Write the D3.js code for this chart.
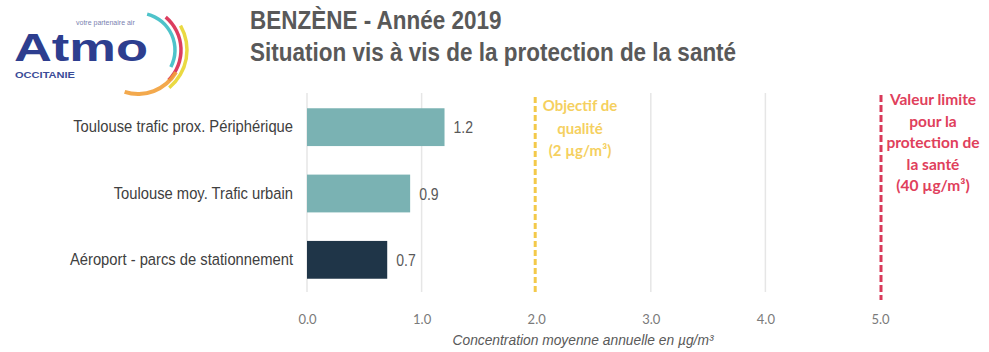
<!DOCTYPE html>
<html>
<head>
<meta charset="utf-8">
<script src="https://cdn.jsdelivr.net/npm/d3@7"></script>
<style>
  html, body { margin: 0; padding: 0; background: #fff; }
  svg { display: block; }
</style>
</head>
<body>
<svg id="chart" width="989" height="352"></svg>
<script>
// Benzène 2019 – annual mean concentration per station
const categories = [
  "Toulouse trafic prox. Périphérique",
  "Toulouse moy. Trafic urbain",
  "Aéroport - parcs de stationnement"
];
const values = [1.2, 0.9, 0.7];
const barGroups = ["trafic", "trafic", "aeroport"];
const tickValues = [0, 1, 2, 3, 4, 5];
const tickLabels = ["0.0", "1.0", "2.0", "3.0", "4.0", "5.0"];
const objectiveValue = 2;
const objectiveLines = ["Objectif de", "qualité", "(2 µg/m³)"];
const limitValue = 5;
const limitLines = ["Valeur limite", "pour la", "protection de", "la santé", "(40 µg/m³)"];

const svg = d3.select("#chart");
const sans = "'Liberation Sans', Arial, sans-serif";
const calibriLike = "Lato, 'Open Sans', sans-serif";

const x = d3.scaleLinear().domain([0, 5]).range([307, 880]);
const y = d3.scaleBand().domain(categories).range([94, 293]).paddingInner(0.43).paddingOuter(0.215);
const color = d3.scaleOrdinal().domain(["trafic", "aeroport"]).range(["#7ab2b3", "#1f3548"]);

// Gridlines
const gridTop = 93, gridBottom = 292;
svg.append("g").selectAll("line")
  .data(tickValues.filter(t => t !== objectiveValue && t !== limitValue))
  .join("line")
  .attr("x1", d => x(d)).attr("x2", d => x(d))
  .attr("y1", gridTop).attr("y2", gridBottom)
  .attr("stroke", "#e6e6e6").attr("stroke-width", 1.5);

// Bars
svg.append("g").selectAll("rect")
  .data(categories)
  .join("rect")
  .attr("x", x(0))
  .attr("y", d => y(d))
  .attr("width", (d, i) => x(values[i]) - x(0))
  .attr("height", y.bandwidth())
  .attr("fill", (d, i) => color(barGroups[i]));

// Value labels (slightly condensed)
svg.append("g").selectAll("text")
  .data(categories)
  .join("text")
  .attr("transform", (d, i) => `translate(${x(values[i]) + 9},${y(d) + y.bandwidth() / 2 + 6}) scale(0.85,1)`)
  .attr("font-family", sans).attr("font-size", 16.5)
  .attr("fill", "#595959")
  .text((d, i) => values[i].toFixed(1));

// Category labels (condensed, right aligned)
svg.append("g").selectAll("text")
  .data(categories)
  .join("text")
  .attr("transform", d => `translate(293,${y(d) + y.bandwidth() / 2 + 5}) scale(0.895,1)`)
  .attr("text-anchor", "end")
  .attr("font-family", sans).attr("font-size", 16.5)
  .attr("fill", "#404040")
  .text(d => d);

// X axis tick labels
const xAxis = d3.axisBottom(x).tickValues(tickValues)
  .tickFormat((d, i) => tickLabels[i]).tickSize(0).tickPadding(0);
const gx = svg.append("g").attr("transform", "translate(0,315)").call(xAxis);
gx.select(".domain").remove();
gx.selectAll("text")
  .attr("font-family", calibriLike).attr("font-size", 13)
  .attr("fill", "#7a7a7a");

// Axis title
svg.append("text")
  .attr("transform", "translate(583,345) scale(0.92,1)")
  .attr("text-anchor", "middle")
  .attr("font-family", sans).attr("font-size", 15).attr("font-style", "italic")
  .attr("fill", "#595959")
  .text("Concentration moyenne annuelle en µg/m³");

// Quality objective line
svg.append("line")
  .attr("x1", x(objectiveValue) - 1).attr("x2", x(objectiveValue) - 1)
  .attr("y1", 97).attr("y2", 292)
  .attr("stroke", "#f3c94a").attr("stroke-width", 3)
  .attr("stroke-dasharray", "6,3");
svg.append("g").selectAll("text")
  .data(objectiveLines)
  .join("text")
  .attr("x", 580)
  .attr("y", (d, i) => 111 + i * 22.5)
  .attr("text-anchor", "middle")
  .attr("font-family", calibriLike).attr("font-weight", "bold").attr("font-size", 15)
  .attr("fill", "#f5d060")
  .text(d => d);

// Limit value line
svg.append("line")
  .attr("x1", x(limitValue) + 1).attr("x2", x(limitValue) + 1)
  .attr("y1", 95).attr("y2", 300)
  .attr("stroke", "#d93a5a").attr("stroke-width", 3)
  .attr("stroke-dasharray", "7,3");
svg.append("g").selectAll("text")
  .data(limitLines)
  .join("text")
  .attr("x", 933)
  .attr("y", (d, i) => 105 + i * 21.5)
  .attr("text-anchor", "middle")
  .attr("font-family", calibriLike).attr("font-weight", "bold").attr("font-size", 15.5)
  .attr("fill", "#e0405c")
  .text(d => d);

// Titles
svg.append("text")
  .attr("transform", "translate(250,29) scale(1,1.12)")
  .attr("font-family", sans).attr("font-weight", "bold").attr("font-size", 22.5)
  .attr("fill", "#595959")
  .text("BENZÈNE - Année 2019");
svg.append("text")
  .attr("transform", "translate(250,61) scale(1,1.12)")
  .attr("font-family", sans).attr("font-weight", "bold").attr("font-size", 22.5)
  .attr("fill", "#595959")
  .text("Situation vis à vis de la protection de la santé");

// Logo
const logo = svg.append("g");
const arcGen = d3.arc();
const cx = 138, cy = 50;
const arcs = [
  { r: 37, w: 3.5, a0: 0.25, a1: 2.05, c: "#3bbdc4" },
  { r: 43, w: 3.5, a0: 0.7, a1: 2.35, c: "#d8284e" },
  { r: 49, w: 3.5, a0: 1.05, a1: 2.45, c: "#e8d52e" },
  { r: 44, w: 4, a0: 2.1, a1: 3.45, c: "#f2a03a" }
];
logo.selectAll("path")
  .data(arcs)
  .join("path")
  .attr("transform", `translate(${cx},${cy})`)
  .attr("d", d => arcGen({ innerRadius: d.r - d.w / 2, outerRadius: d.r + d.w / 2, startAngle: d.a0, endAngle: d.a1 }))
  .attr("fill", d => d.c)
  .attr("opacity", 0.9);
logo.append("text")
  .attr("x", 14).attr("y", 61)
  .attr("textLength", 134).attr("lengthAdjust", "spacingAndGlyphs")
  .attr("font-family", sans).attr("font-weight", "bold").attr("font-size", 38)
  .attr("fill", "#2d3e8f")
  .text("Atmo");
logo.append("text")
  .attr("x", 76).attr("y", 25)
  .attr("font-family", sans).attr("font-size", 7)
  .attr("fill", "#7a7fb0")
  .text("votre partenaire air");
logo.append("text")
  .attr("x", 15).attr("y", 78)
  .attr("textLength", 60).attr("lengthAdjust", "spacingAndGlyphs")
  .attr("font-family", sans).attr("font-weight", "bold").attr("font-size", 9)
  .attr("fill", "#3a4c98")
  .text("OCCITANIE");
</script>
</body>
</html>
